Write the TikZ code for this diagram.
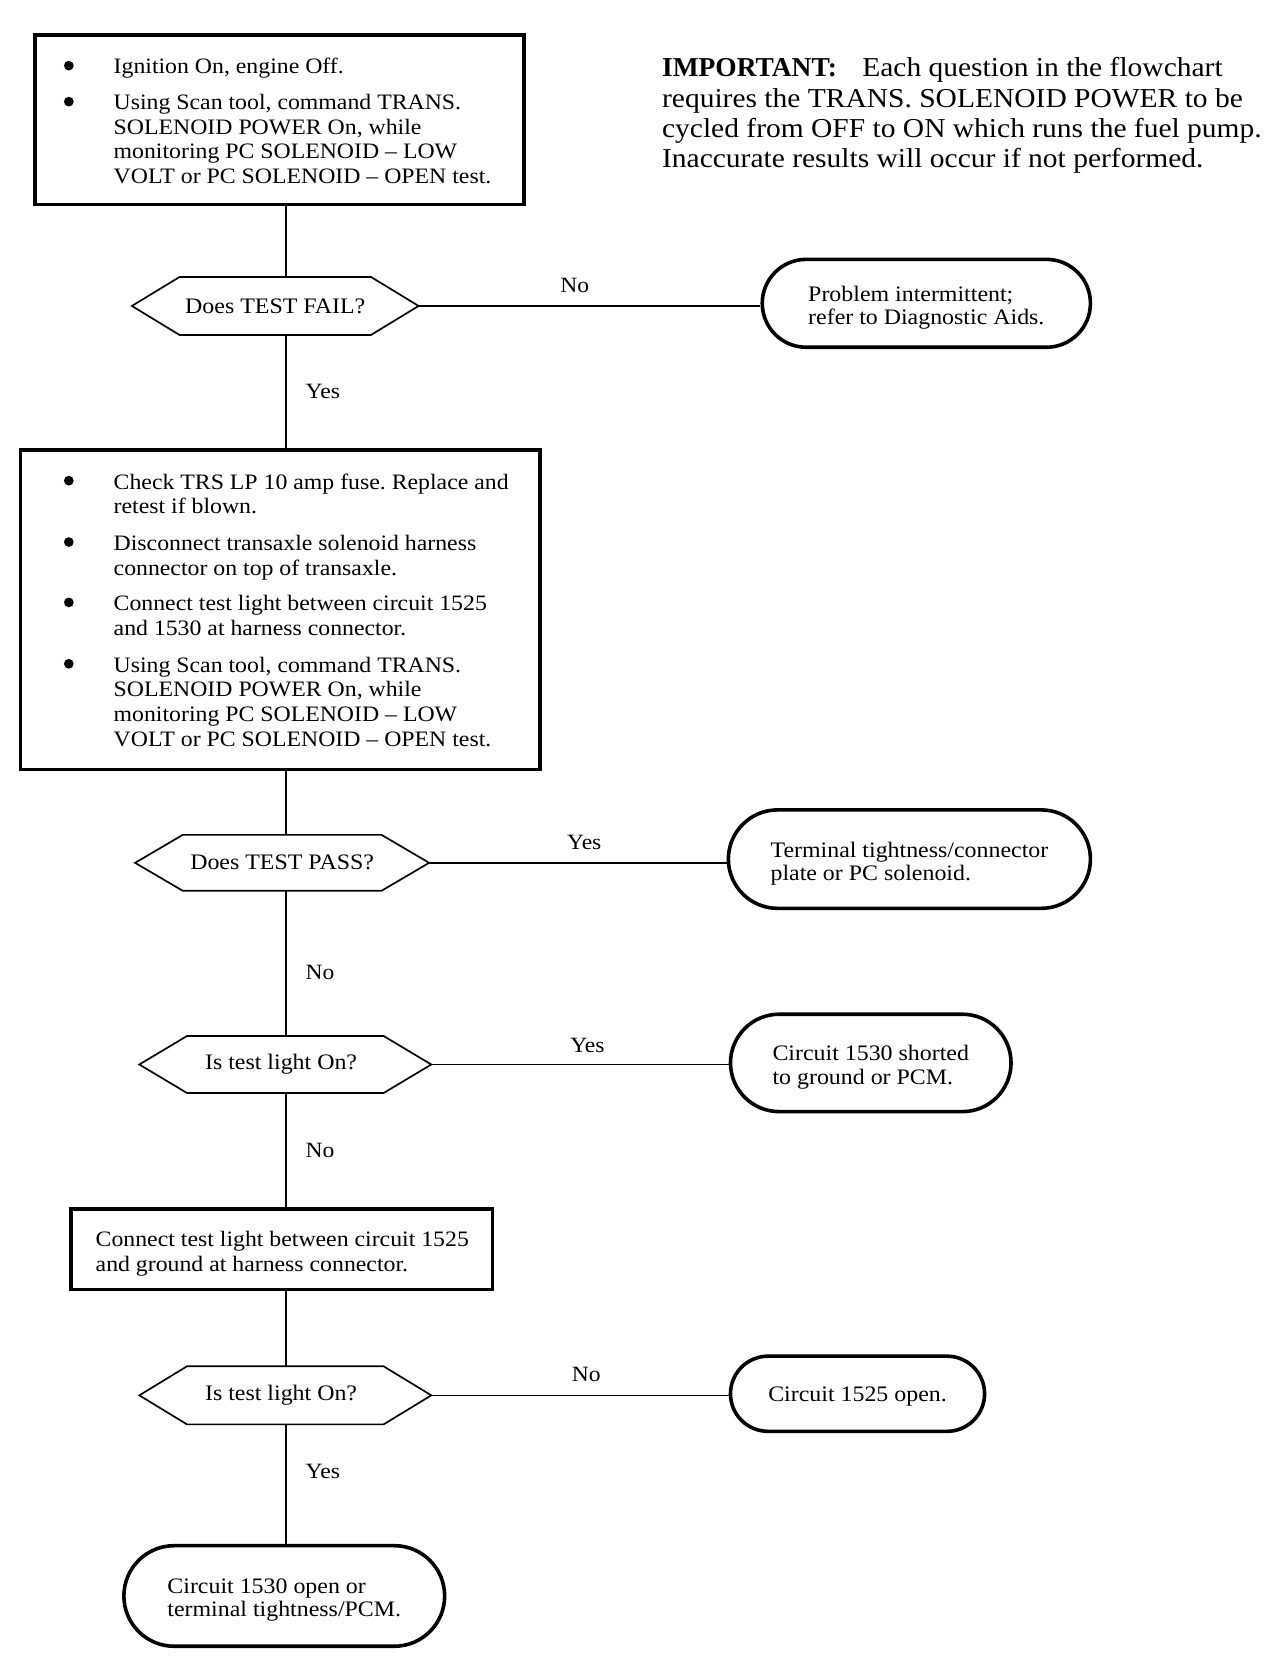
\documentclass[tikz,border=0pt]{standalone}
\usepackage{fontspec}
\setmainfont[FakeStretch=1.08]{Liberation Serif}
\usetikzlibrary{calc}
\frenchspacing
\newcommand\hexat[2]{%
  \draw[hexline] (#1.west) -- ($(#1.north west)+(#2,0)$) -- ($(#1.north east)+(-#2,0)$) -- (#1.east) -- ($(#1.south east)+(-#2,0)$) -- ($(#1.south west)+(#2,0)$) -- cycle;}
\begin{document}
\begin{tikzpicture}[x=0.5pt,y=0.5pt,
  boxt/.style={draw,line width=1.5pt,inner sep=0},
  itemt/.style={anchor=north west,inner sep=0,align=left,font=\fontsize{10.4}{11.67}\selectfont},
  bul/.style={circle,fill,inner sep=0,minimum size=4.6pt},
  hexn/.style={inner sep=0,font=\fontsize{10.45}{12}\selectfont},
  hexline/.style={line width=0.8pt,line join=miter},
  ovalb/.style={draw,line width=1.7pt,inner sep=0},
  ovalt/.style={inner sep=0,align=left,font=\fontsize{10.45}{11}\selectfont},
  conn/.style={line width=0.7pt},
  vlab/.style={inner sep=0,anchor=west,xshift=9pt,font=\fontsize{10.3}{12}\selectfont},
  hlab/.style={inner sep=0,anchor=south,yshift=6pt,font=\fontsize{10.3}{12}\selectfont}
]
\useasboundingbox (0,0) rectangle (1209,-1568);
\coordinate (spine) at (270,0);

% note
\node[anchor=north west,inner sep=0,align=left,font=\fontsize{12.9}{14.35}\selectfont] (note) at (625,-54)
 {\scalebox{0.93}[1]{\textbf{IMPORTANT:}}\hspace{12pt}Each question in the flowchart\\
  requires the TRANS. SOLENOID POWER to be\\
  cycled from OFF to ON which runs the fuel pump.\\
  Inaccurate results will occur if not performed.};

% box 1
\node[boxt,minimum width=231pt,minimum height=80pt] (b1) at (264,-113) {};
\node[bul] (b1u1) at (65,-62) {};
\node[itemt] (b1i1) at (107,-54.5) {Ignition On, engine Off.};
\node[bul] (b1u2) at (65,-96) {};
\node[itemt] (b1i2) at (107,-88.5) {Using Scan tool, command TRANS.\\ SOLENOID POWER On, while\\ monitoring PC SOLENOID -- LOW\\ VOLT or PC SOLENOID -- OPEN test.};

% decision 1
\node[hexn,minimum width=135pt,minimum height=27pt] (d1) at (260,-289) {Does TEST FAIL?};
\hexat{d1}{45}
\node[ovalb,minimum width=155pt,minimum height=41.5pt,rounded corners=20.75pt] (o1) at (875,-286.5) {};
\node[ovalt] (o1t) at ($(o1.center)+(0,-4)$) {Problem intermittent;\\ refer to Diagnostic Aids.};

% box 2
\node[boxt,minimum width=245.5pt,minimum height=151pt] (b2) at (264.5,-576) {};
\node[bul] (b2u1) at (65,-454) {};
\node[itemt] (b2i1) at (107,-447) {Check TRS LP 10 amp fuse. Replace and\\ retest if blown.};
\node[bul] (b2u2) at (65,-512) {};
\node[itemt] (b2i2) at (107,-505) {Disconnect transaxle solenoid harness\\ connector on top of transaxle.};
\node[bul] (b2u3) at (65,-569) {};
\node[itemt] (b2i3) at (107,-562) {Connect test light between circuit 1525\\ and 1530 at harness connector.};
\node[bul] (b2u4) at (65,-627) {};
\node[itemt] (b2i4) at (107,-620) {Using Scan tool, command TRANS.\\ SOLENOID POWER On, while\\ monitoring PC SOLENOID -- LOW\\ VOLT or PC SOLENOID -- OPEN test.};

% decision 2
\node[hexn,minimum width=138.5pt,minimum height=26pt] (d2) at (266.5,-815) {Does TEST PASS?};
\hexat{d2}{45}
\node[ovalb,minimum width=171pt,minimum height=46.5pt,rounded corners=23.25pt] (o2) at (859,-811.5) {};
\node[ovalt] (o2t) at ($(o2.center)+(0,-4)$) {Terminal tightness/connector\\ plate or PC solenoid.};

% decision 3
\node[hexn,minimum width=137.5pt,minimum height=26.5pt] (d3) at (269.5,-1005.5) {\hspace*{-4pt}Is test light On?};
\hexat{d3}{45}
\node[ovalb,minimum width=132.5pt,minimum height=46pt,rounded corners=23pt] (o3) at (822.5,-1004) {};
\node[ovalt] (o3t) at ($(o3.center)+(0,-4)$) {Circuit 1530 shorted\\ to ground or PCM.};

% box 3
\node[boxt,minimum width=199pt,minimum height=38pt] (b3) at (266,-1180) {};
\node[itemt] (b3t) at (90,-1162.5) {Connect test light between circuit 1525\\ and ground at harness connector.};

% decision 4
\node[hexn,minimum width=137.5pt,minimum height=27pt] (d4) at (269.5,-1318) {\hspace*{-4pt}Is test light On?};
\hexat{d4}{45}
\node[ovalb,minimum width=120pt,minimum height=35.5pt,rounded corners=17.75pt] (o4) at (810,-1316.5) {};
\node[ovalt] (o4t) at ($(o4.center)+(0,-3)$) {Circuit 1525 open.};

% final oval
\node[ovalb,minimum width=151.5pt,minimum height=47.5pt,rounded corners=23.75pt] (o5) at (268.5,-1507.5) {};
\node[ovalt] (o5t) at ($(o5.center)+(0,-4)$) {Circuit 1530 open or\\ terminal tightness/PCM.};

% connectors
\draw[conn] (b1.south -| spine) -- (d1.north -| spine);
\draw[conn] (d1.east) -- node[hlab,xshift=-7pt]{No} (d1.east -| o1.west);
\draw[conn] (d1.south -| spine) -- node[vlab]{Yes} (b2.north -| spine);
\draw[conn] (b2.south -| spine) -- (d2.north -| spine);
\draw[conn] (d2.east) -- node[hlab,xshift=3pt]{Yes} (d2.east -| o2.west);
\draw[conn] (d2.south -| spine) -- node[vlab,yshift=-4.5pt]{No} (d3.north -| spine);
\draw[conn] (d3.east) -- node[hlab,xshift=3.5pt,yshift=-1pt]{Yes} (d3.east -| o3.west);
\draw[conn] (d3.south -| spine) -- node[vlab]{No} (b3.north -| spine);
\draw[conn] (b3.south -| spine) -- (d4.north -| spine);
\draw[conn] (d4.east) -- node[hlab,xshift=3pt]{No} (d4.east -| o4.west);
\draw[conn] (d4.south -| spine) -- node[vlab,yshift=6pt]{Yes} (o5.north -| spine);
\end{tikzpicture}
\end{document}
